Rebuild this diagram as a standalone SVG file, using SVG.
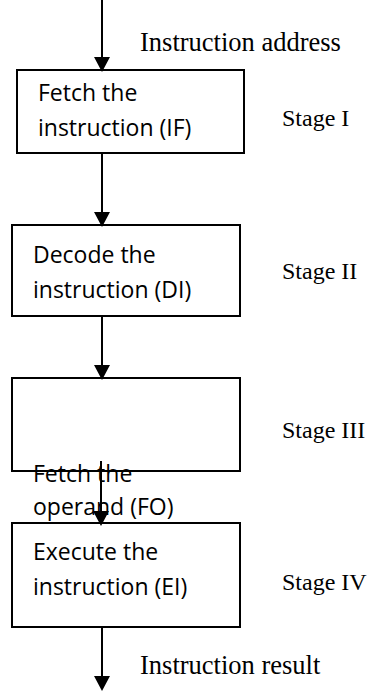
<svg xmlns="http://www.w3.org/2000/svg" width="367" height="692" viewBox="0 0 367 692">
  <style>
    .box { fill: none; stroke: #000; stroke-width: 2; }
    .wire { stroke: #000; stroke-width: 2; fill: none; }
    .head { fill: #000; }
    .inner { font-family: "Open Sans", "Noto Sans", sans-serif; font-size: 23px; fill: #000; }
    .side { font-family: "Liberation Serif", "Times New Roman", serif; font-size: 24px; fill: #000; }
    .io { font-family: "Liberation Serif", "Times New Roman", serif; font-size: 26.5px; fill: #000; }
  </style>
  <defs>
    <polygon id="arrowhead" class="head" points="-8,-14 8,-14 0,1"/>
  </defs>
  <rect width="367" height="692" fill="#fff"/>

  <!-- connectors -->
  <g id="connectors">
    <line class="wire" x1="102" y1="0" x2="102" y2="60"/>
    <use href="#arrowhead" x="102" y="71"/>
    <line class="wire" x1="102" y1="153" x2="102" y2="214"/>
    <use href="#arrowhead" x="102" y="226"/>
    <line class="wire" x1="102" y1="316" x2="102" y2="367"/>
    <use href="#arrowhead" x="102" y="379"/>
    <line class="wire" x1="101" y1="461" x2="101" y2="512"/>
    <use href="#arrowhead" x="101" y="525"/>
    <line class="wire" x1="102" y1="627" x2="102" y2="678"/>
    <use href="#arrowhead" x="102" y="690"/>
  </g>

  <g id="input-label">
    <text class="io" x="140" y="51">Instruction address</text>
  </g>

  <g id="stage-if">
    <rect class="box" x="17" y="70" width="227" height="83"/>
    <text class="inner" x="38" y="101">Fetch the</text>
    <text class="inner" x="38" y="136">instruction (IF)</text>
    <text class="side" x="282" y="126">Stage I</text>
  </g>

  <g id="stage-di">
    <rect class="box" x="12" y="225" width="228" height="91"/>
    <text class="inner" x="33" y="263">Decode the</text>
    <text class="inner" x="33" y="298">instruction (DI)</text>
    <text class="side" x="282" y="279">Stage II</text>
  </g>

  <g id="stage-fo">
    <rect class="box" x="12" y="378" width="228" height="93"/>
    <text class="inner" x="33" y="482">Fetch the</text>
    <text class="inner" x="33" y="515">operand (FO)</text>
    <text class="side" x="282" y="438">Stage III</text>
  </g>

  <g id="stage-ei">
    <rect class="box" x="12" y="523" width="228" height="104"/>
    <text class="inner" x="33" y="560">Execute the</text>
    <text class="inner" x="33" y="595">instruction (EI)</text>
    <text class="side" x="282" y="590">Stage IV</text>
  </g>

  <g id="output-label">
    <text class="io" x="140" y="674">Instruction result</text>
  </g>
</svg>
